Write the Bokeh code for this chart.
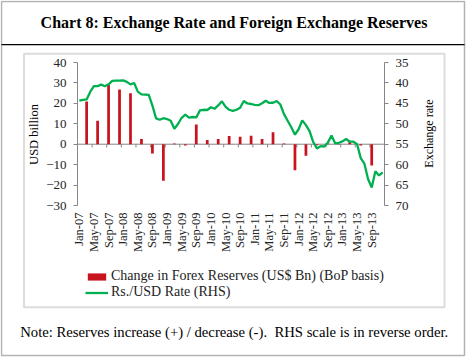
import math
from bokeh.plotting import figure
from bokeh.models import (Range1d, LinearAxis, SingleIntervalTicker, FixedTicker,
                          BoxAnnotation, Label, Legend, LegendItem)
from bokeh.embed import file_html
from bokeh.resources import INLINE

# ---------------- data ----------------
month_names = ["Jan", "Feb", "Mar", "Apr", "May", "Jun", "Jul", "Aug", "Sep", "Oct", "Nov", "Dec"]
years = ["07", "08", "09", "10", "11", "12", "13"]
months = [f"{m}-{y}" for y in years for m in month_names]

tick_labels = ["Jan-07", "May-07", "Sep-07", "Jan-08", "May-08", "Sep-08", "Jan-09",
               "May-09", "Sep-09", "Jan-10", "May-10", "Sep-10", "Jan-11", "May-11",
               "Sep-11", "Jan-12", "May-12", "Sep-12", "Jan-13", "May-13", "Sep-13"]

# Rs./USD rate, monthly (RHS, reversed)
rate = [44.33, 44.16, 44.03, 42.15, 40.78, 40.77, 40.41, 40.82, 40.34, 39.51, 39.44, 39.44,
        39.37, 39.73, 40.36, 40.02, 42.13, 42.82, 42.84, 42.94, 45.56, 48.66, 49.00, 48.63,
        48.83, 49.26, 51.23, 50.06, 48.53, 47.77, 48.48, 48.34, 48.44, 46.72, 46.57, 46.63,
        45.96, 46.33, 45.50, 44.50, 45.81, 46.57, 46.84, 46.57, 46.06, 44.41, 45.02, 45.16,
        45.39, 45.44, 44.99, 44.37, 44.90, 44.85, 44.42, 45.28, 47.63, 49.26, 50.85, 52.68,
        51.34, 49.17, 50.32, 51.80, 54.47, 56.03, 55.49, 55.56, 54.61, 52.88, 54.77, 54.65,
        54.31, 53.73, 54.39, 54.38, 55.00, 58.40, 59.78, 63.50, 65.60, 61.62, 62.63, 61.91]

# Change in forex reserves, quarterly (US$ bn, BoP basis)
quarters = ["Mar-07", "Jun-07", "Sep-07", "Dec-07", "Mar-08", "Jun-08", "Sep-08", "Dec-08",
            "Mar-09", "Jun-09", "Sep-09", "Dec-09", "Mar-10", "Jun-10", "Sep-10", "Dec-10",
            "Mar-11", "Jun-11", "Sep-11", "Dec-11", "Mar-12", "Jun-12", "Sep-12", "Dec-12",
            "Mar-13", "Jun-13", "Sep-13"]
reserves = [20.9, 11.5, 29.0, 26.8, 25.0, 2.5, -4.6, -17.9,
            0.4, -0.6, 9.6, 2.1, 2.6, 4.0, 3.6, 4.2,
            2.6, 5.9, 0.3, -12.8, -5.7, -0.5, 0.3, 0.2,
            1.0, -0.6, -10.4]

LEFT_LIM = (-30, 40)
RIGHT_LIM = (35, 70)

# ---------------- layout (pixels) ----------------
FONT = "Liberation Serif"
GRAY = "#868686"
W, H = 467, 357
FX0, FX1, FY0, FY1 = 77, 384, 62, 205   # plot area in page pixels

n = len(months)
xs = (FX1 - FX0) / n
x_range = Range1d(-0.5 - FX0 / xs, n - 0.5 + (W - FX1) / xs)
ys = (FY1 - FY0) / (LEFT_LIM[1] - LEFT_LIM[0])
y_range = Range1d(LEFT_LIM[0] - (H - FY1) / ys, LEFT_LIM[1] + FY0 / ys)
rs = (FY1 - FY0) / (RIGHT_LIM[1] - RIGHT_LIM[0])
rate_range = Range1d(RIGHT_LIM[1] + (H - FY1) / rs, RIGHT_LIM[0] - FY0 / rs)

def sy(py):  # page y (top-down) -> screen y (bottom-up)
    return H - py

x_idx = list(range(n))
q_idx = [months.index(q) for q in quarters]
tick_idx = [months.index(t) for t in tick_labels]
bounds = [i - 0.5 for i in tick_idx[1:]]

p = figure(width=W, height=H, output_backend="svg", toolbar_location=None,
           x_range=x_range, y_range=y_range, x_axis_location=None, y_axis_location=None,
           min_border=0, min_border_left=0, min_border_right=0, min_border_top=0,
           min_border_bottom=0)
p.extra_y_ranges = {"rate": rate_range}
p.grid.visible = False
p.outline_line_color = None
p.background_fill_color = "white"
p.border_fill_color = "white"

def style_y(ax):
    ax.axis_line_color = GRAY
    ax.major_tick_line_color = GRAY
    ax.minor_tick_line_color = None
    ax.major_tick_out = 4
    ax.major_tick_in = 0
    ax.major_label_text_font = FONT
    ax.major_label_text_font_size = "13px"
    ax.major_label_text_color = "#222222"
    ax.major_label_standoff = 7

la = LinearAxis(fixed_location=-0.5, bounds=LEFT_LIM,
                ticker=SingleIntervalTicker(interval=10, num_minor_ticks=0))
style_y(la)
p.add_layout(la, "left")

ra = LinearAxis(y_range_name="rate", fixed_location=n - 0.5, bounds=RIGHT_LIM,
                ticker=SingleIntervalTicker(interval=5, num_minor_ticks=0))
style_y(ra)
p.add_layout(ra, "right")

xa = LinearAxis(fixed_location=LEFT_LIM[0], ticker=FixedTicker(ticks=tick_idx))
xa.major_label_overrides = {i: t for i, t in zip(tick_idx, tick_labels)}
xa.major_label_orientation = math.pi / 2
xa.axis_line_color = None
xa.major_tick_line_color = None
xa.minor_tick_line_color = None
xa.major_tick_out = 0
xa.major_tick_in = 0
xa.major_label_text_font = FONT
xa.major_label_text_font_size = "12.5px"
xa.major_label_text_color = "#222222"
xa.major_label_standoff = 7
p.add_layout(xa, "below")

# zero line with category tick marks
p.segment(x0=[-0.5], y0=[0], x1=[n - 0.5], y1=[0], line_color=GRAY, line_width=1)
p.segment(x0=bounds, y0=[0] * len(bounds), x1=bounds, y1=[-1.6] * len(bounds),
          line_color=GRAY, line_width=1)

bars = p.vbar(x=q_idx, top=reserves, width=0.75, fill_color="#C8141E", line_color=None)
ln = p.line(x=x_idx, y=rate, y_range_name="rate", line_color="#00B050", line_width=2.3)

# axis titles
p.add_layout(Label(x=33, y=sy(134), x_units="screen", y_units="screen", text="USD billion",
                   angle=math.pi / 2, text_font=FONT, text_font_size="12.5px",
                   text_align="center", text_baseline="middle", text_color="black"))
p.add_layout(Label(x=428, y=sy(133), x_units="screen", y_units="screen", text="Exchange rate",
                   angle=math.pi / 2, text_font=FONT, text_font_size="12px",
                   text_align="center", text_baseline="middle", text_color="black"))

legend = Legend(items=[LegendItem(label="Change in Forex Reserves (US$ Bn) (BoP basis)", renderers=[bars]),
                       LegendItem(label="Rs./USD Rate (RHS)", renderers=[ln])],
                location=(85, sy(300)), orientation="vertical", border_line_color=None,
                background_fill_alpha=0, padding=0, spacing=0, margin=0,
                glyph_width=23, glyph_height=9, label_height=15, label_standoff=3,
                label_text_font=FONT, label_text_font_size="14px", label_text_color="#222222")
p.add_layout(legend)

# frame decorations
def box(l, r, t, b, **kw):
    p.add_layout(BoxAnnotation(left=l, right=r, top=sy(t), bottom=sy(b),
                               left_units="screen", right_units="screen", top_units="screen",
                               bottom_units="screen", **kw))

box(1, 464, 1, 355, fill_color=None, line_color="black", line_width=1.5)
box(1, 464, 43.5, 44.8, fill_color="black", fill_alpha=1, line_color=None)
box(23.5, 444, 53.3, 306.7, fill_color=None, line_color="#8c8c8c", line_width=2)

p.add_layout(Label(x=233.5, y=sy(22), x_units="screen", y_units="screen",
                   text="Chart 8: Exchange Rate and Foreign Exchange Reserves",
                   text_font=FONT, text_font_size="16px", text_font_style="bold",
                   text_align="center", text_baseline="middle", text_color="black"))
p.add_layout(Label(x=233.7, y=sy(331), x_units="screen", y_units="screen",
                   text="Note: Reserves increase (+) / decrease (-).\u00a0 RHS scale is in reverse order.",
                   text_font=FONT, text_font_size="14.7px",
                   text_align="center", text_baseline="middle", text_color="black"))

open("out.html", "w").write(file_html(p, INLINE))
